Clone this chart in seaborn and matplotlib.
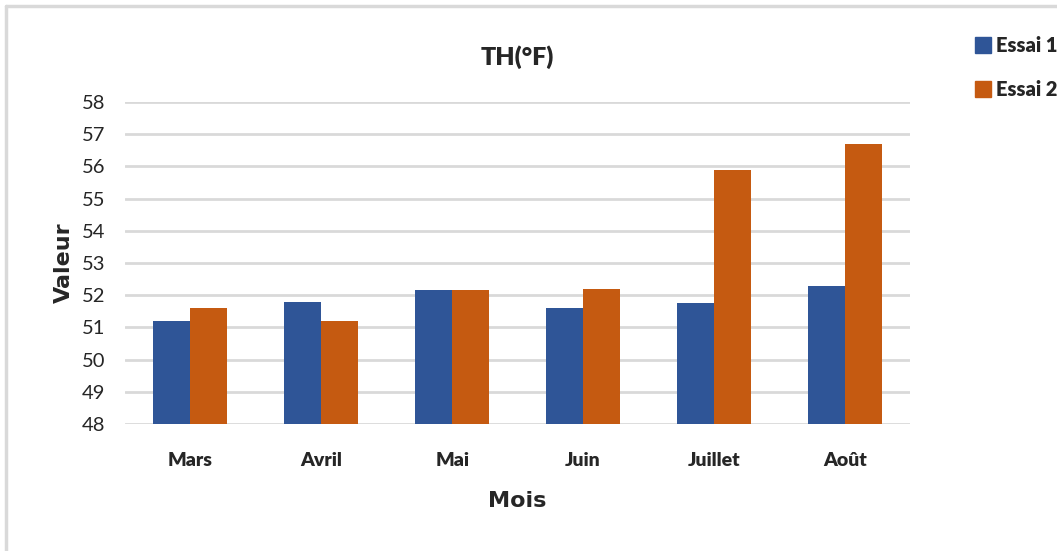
import matplotlib
matplotlib.use('Agg')
import matplotlib.pyplot as plt
import pandas as pd
import seaborn as sns
from matplotlib.lines import Line2D

# data
mois = ['Mars', 'Avril', 'Mai', 'Juin', 'Juillet', 'Août']
essai1 = [51.2, 51.8, 52.15, 51.6, 51.75, 52.3]
essai2 = [51.6, 51.2, 52.15, 52.2, 55.9, 56.7]
y_ticks = [48, 49, 50, 51, 52, 53, 54, 55, 56, 57, 58]

df = pd.DataFrame({
    'Mois': mois * 2,
    'Valeur': essai1 + essai2,
    'Essai': ['Essai 1'] * len(mois) + ['Essai 2'] * len(mois),
})

sns.set_style('white')
plt.rcParams['font.family'] = ['Lato', 'DejaVu Sans']

fig = plt.figure(figsize=(10.57, 5.51), dpi=100)
ax = fig.add_axes([0.1183, 0.2305, 0.7427, 0.5845])

sns.barplot(data=df, x='Mois', y='Valeur', hue='Essai', order=mois,
            palette=['#2F5597', '#C55A11'], saturation=1, width=0.566, gap=0,
            edgecolor='none', linewidth=0, ax=ax, zorder=3)

# gridlines, no spines
ax.set_ylim(48, 58)
ax.set_xlim(-0.5, 5.5)
ax.set_yticks(y_ticks)
ax.yaxis.grid(True, color='#d9d9d9', linewidth=2, zorder=0)
ax.set_axisbelow(True)
for s in ax.spines.values():
    s.set_visible(False)
ax.tick_params(axis='y', length=0, labelsize=14.5, pad=14, labelcolor='#262626')
ax.tick_params(axis='x', length=0, labelsize=14, pad=20)
for lbl in ax.get_xticklabels():
    lbl.set_fontweight('heavy')

ax.set_title('TH(°F)', fontsize=18, fontweight='heavy', pad=27)
ax.set_xlabel('Mois', fontsize=16, fontweight='bold', family='DejaVu Sans', labelpad=16)
ax.set_ylabel('Valeur', fontsize=16, fontweight='bold', family='DejaVu Sans', labelpad=6)

# legend outside on the right
handles = [Line2D([], [], marker='s', linestyle='none', markersize=12, color=c)
           for c in ['#2F5597', '#C55A11']]
fig.legend(handles, ['Essai 1', 'Essai 2'], loc='upper left',
           bbox_to_anchor=(0.903, 0.968), frameon=False,
           prop={'size': 14.5, 'weight': 'heavy'}, labelspacing=1.25,
           handletextpad=0.15, handlelength=1.0)
if ax.get_legend():
    ax.get_legend().remove()

# light frame on top and left of the chart area
fig.add_artist(Line2D([0.0057, 1.0], [0.989, 0.989], color='#d9d9d9', linewidth=2.5))
fig.add_artist(Line2D([0.0057, 0.0057], [0.0, 0.989], color='#d9d9d9', linewidth=2.5))

fig.savefig('out.png', dpi=100)
